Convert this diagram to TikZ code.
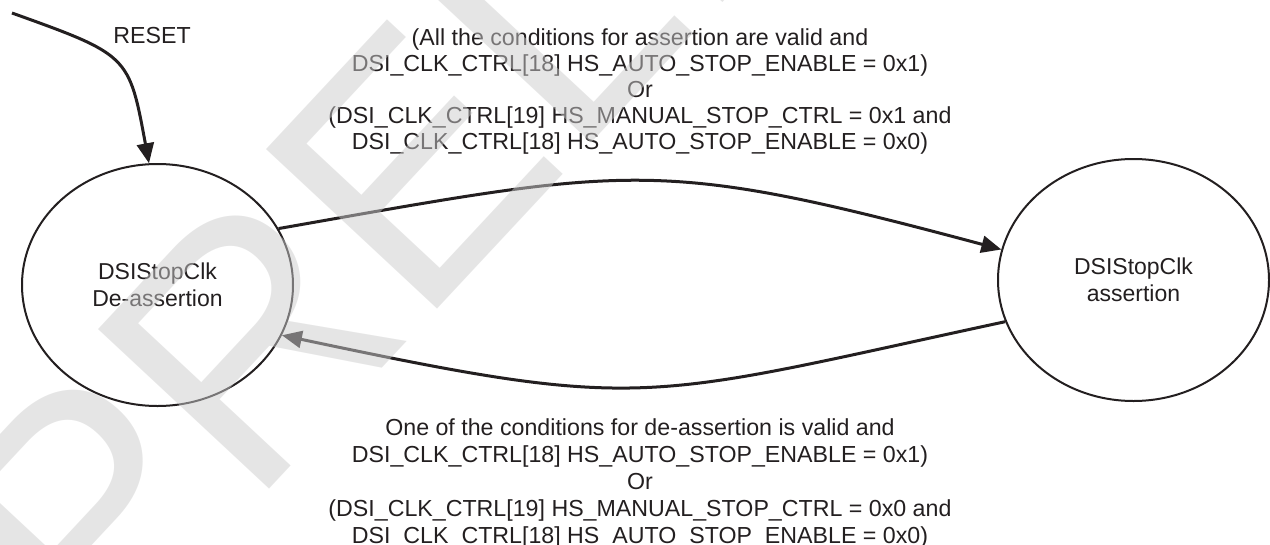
\documentclass[tikz,border=0pt]{standalone}
\usepackage{fontspec}
\setmainfont{Liberation Sans}
\usetikzlibrary{shapes.geometric,arrows.meta}
\definecolor{ink}{HTML}{231F20}
\definecolor{wm}{gray}{0.8}
\begin{document}
\begin{tikzpicture}[x=1pt,y=-1pt,
  state/.style={draw=ink, line width=2pt, ellipse, minimum width=271pt, minimum height=242pt, inner sep=0pt, font=\fontsize{23}{26.5}\selectfont, text=ink, align=center},
  conn/.style={draw=ink, line width=3pt, -{Triangle[length=20pt,width=17pt]}},
  lbl/.style={font=\fontsize{23.2}{26}\selectfont, text=ink, align=center, inner sep=0pt},
  lblb/.style={lbl, font=\fontsize{23.2}{27}\selectfont},
  wmark/.style={font=\fontsize{340}{340}\selectfont, text=wm, opacity=0.5, inner sep=0pt}]
\useasboundingbox (0,0) rectangle (1270,544);
\node[state] (L) at (157.5,285) {DSIStopClk\\De-assertion};
\node[state] (R) at (1133.5,280) {DSIStopClk\\assertion};
\coordinate (rst) at (12,13);
\draw[conn] (rst) .. controls (129,55) .. (L.94);
\draw[conn] (L.25) .. controls (634,166) and (656,157) .. (R.167);
\draw[conn] (R.198) .. controls (641,400) and (649,413) .. (L.-22);
\node[lbl] (reset) at (152,36) {RESET};
\node[lbl, anchor=base] (top) at (640,149.5) {(All the conditions for assertion are valid and\\DSI\_CLK\_CTRL[18] HS\_AUTO\_STOP\_ENABLE = 0x1)\\Or\\(DSI\_CLK\_CTRL[19] HS\_MANUAL\_STOP\_CTRL = 0x1 and\\DSI\_CLK\_CTRL[18] HS\_AUTO\_STOP\_ENABLE = 0x0)};
\node[lblb, anchor=base] (bot) at (640,543) {One of the conditions for de-assertion is valid and\\DSI\_CLK\_CTRL[18] HS\_AUTO\_STOP\_ENABLE = 0x1)\\Or\\(DSI\_CLK\_CTRL[19] HS\_MANUAL\_STOP\_CTRL = 0x0 and\\DSI\_CLK\_CTRL[18] HS\_AUTO\_STOP\_ENABLE = 0x0)};
\node[wmark, rotate=47, anchor=base west] (wmk) at (96,675) {PRELIMINARY};
\end{tikzpicture}
\end{document}
